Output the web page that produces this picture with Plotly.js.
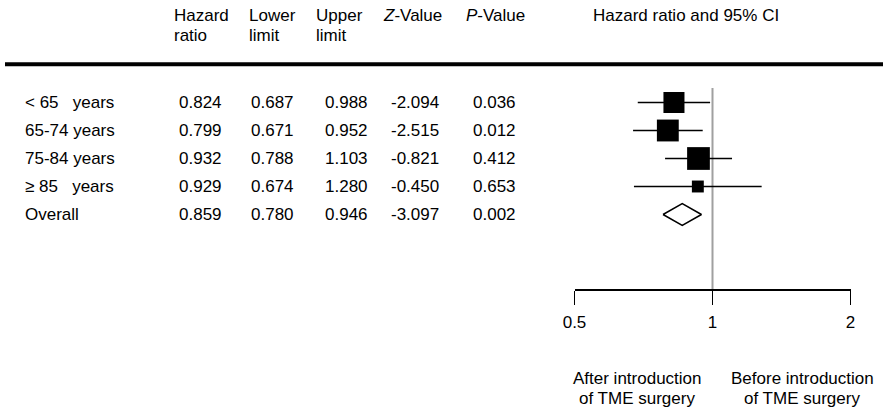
<!DOCTYPE html>
<html><head><meta charset="utf-8">
<script src="https://cdn.plot.ly/plotly-3.0.1.min.js"></script>
<style>html,body{margin:0;padding:0;background:#fff}</style>
</head><body><div id="chart" style="width:885px;height:411px"></div>
<script>
// ---- data ----
const groups = ["&lt; 65\u00a0\u00a0\u00a0years", "65-74 years", "75-84 years", "\u2265 85\u00a0\u00a0\u00a0years", "Overall"];
const hazardRatio = [0.824, 0.799, 0.932, 0.929, 0.859];
const lowerLimit = [0.687, 0.671, 0.788, 0.674, 0.780];
const upperLimit = [0.988, 0.952, 1.103, 1.280, 0.946];
const zValue = [-2.094, -2.515, -0.821, -0.450, -3.097];
const pValue = [0.036, 0.012, 0.412, 0.653, 0.002];
const tickValues = [0.5, 1, 2];
const tickLabels = ["0.5", "1", "2"];
const columnHeaders = [["Hazard", "ratio"], ["Lower", "limit"], ["Upper", "limit"], ["<i>Z</i>-Value"], ["<i>P</i>-Value"]];
const forestTitle = "Hazard ratio and 95% CI";
const favoursLeft = ["After introduction", "of TME surgery"];
const favoursRight = ["Before introduction", "of TME surgery"];

// ---- layout helpers ----
const W = 885, H = 411;
const FONT = "Liberation Sans, Arial, sans-serif";
const FS = 17;
const ROW0 = 102.5, ROWSTEP = 28;
const px = x => x / W, py = y => 1 - y / H;
const headerX = [173, 248, 315, 382, 465];
const valueX = [178, 250, 324, 390, 472];
const labelX = 24;
const nStudies = groups.length - 1;
const rows = groups.map((g, i) => i);

const traces = [];
// CI lines
for (let i = 0; i < nStudies; i++) {
  traces.push({
    x: [lowerLimit[i], upperLimit[i]], y: [rows[i], rows[i]],
    mode: "lines", line: {color: "#000", width: 1.3},
    hoverinfo: "skip", showlegend: false, cliponaxis: false
  });
}
// squares sized by inverse standard error (weight)
const se = lowerLimit.map((l, i) => (Math.log(upperLimit[i]) - Math.log(l)) / (2 * 1.96));
const SIZE_K = 1.95;
traces.push({
  x: hazardRatio.slice(0, nStudies), y: rows.slice(0, nStudies),
  mode: "markers",
  marker: {symbol: "square", color: "#000", opacity: 1,
           size: se.slice(0, nStudies).map(s => SIZE_K / s), line: {width: 0}},
  showlegend: false, cliponaxis: false
});
// overall diamond
const o = nStudies, dh = 11 / ROWSTEP;
traces.push({
  x: [lowerLimit[o], hazardRatio[o], upperLimit[o], hazardRatio[o], lowerLimit[o]],
  y: [rows[o], rows[o] - dh, rows[o], rows[o] + dh, rows[o]],
  mode: "lines", fill: "toself", fillcolor: "#fff",
  line: {color: "#000", width: 1.5}, showlegend: false, cliponaxis: false
});

const ann = [];
function addText(text, x, y, yref, anchor) {
  ann.push({text: text, x: x, y: y, xref: "paper", yref: yref || "paper",
    xanchor: anchor || "left", yanchor: "middle", showarrow: false,
    font: {family: FONT, size: FS, color: "#000"}});
}
columnHeaders.forEach((lines, c) => {
  lines.forEach((t, k) => addText(t, px(headerX[c] - 1), py(15.5 + 20 * k)));
});
addText(forestTitle, px(591), py(15.5));
const cols = [hazardRatio, lowerLimit, upperLimit, zValue, pValue];
groups.forEach((g, i) => {
  addText(g, px(labelX - 1), rows[i], "y");
  cols.forEach((arr, c) => addText(arr[i].toFixed(3), px(valueX[c] - 1), rows[i], "y"));
});
favoursLeft.forEach((t, k) => addText(t, px(637), py(378 + 20 * k), "paper", "center"));
favoursRight.forEach((t, k) => addText(t, px(802), py(378 + 20 * k), "paper", "center"));

const layout = {
  width: W, height: H,
  margin: {l: 0, r: 0, t: 0, b: 0, pad: 0},
  paper_bgcolor: "#fff", plot_bgcolor: "rgba(0,0,0,0)",
  font: {family: FONT, size: FS, color: "#000"},
  xaxis: {
    type: "log", domain: [px(574.5), px(850.5)],
    range: [Math.log10(tickValues[0]), Math.log10(tickValues[tickValues.length - 1])],
    anchor: "free", position: py(289), side: "bottom",
    showline: true, linecolor: "#000", linewidth: 1.5,
    ticks: "outside", ticklen: 14, tickwidth: 1.5, tickcolor: "#000",
    tickmode: "array", tickvals: tickValues, ticktext: tickLabels,
    ticklabelstandoff: 3,
    tickfont: {family: FONT, size: FS, color: "#000"},
    showgrid: false, zeroline: false, fixedrange: true
  },
  yaxis: {
    range: [(H - ROW0) / ROWSTEP, -ROW0 / ROWSTEP], domain: [0, 1],
    visible: false, showgrid: false, zeroline: false, fixedrange: true
  },
  shapes: [
    {type: "line", xref: "paper", yref: "paper", x0: px(5), x1: px(883), y0: py(64.3), y1: py(64.3),
     line: {color: "#000", width: 4}},
    {type: "line", xref: "x", yref: "paper", x0: 1, x1: 1, y0: py(289), y1: py(88),
     line: {color: "#a0a0a0", width: 2}, layer: "below"}
  ],
  annotations: ann,
  showlegend: false
};
Plotly.newPlot("chart", traces, layout, {staticPlot: true, displayModeBar: false});
</script></body></html>
